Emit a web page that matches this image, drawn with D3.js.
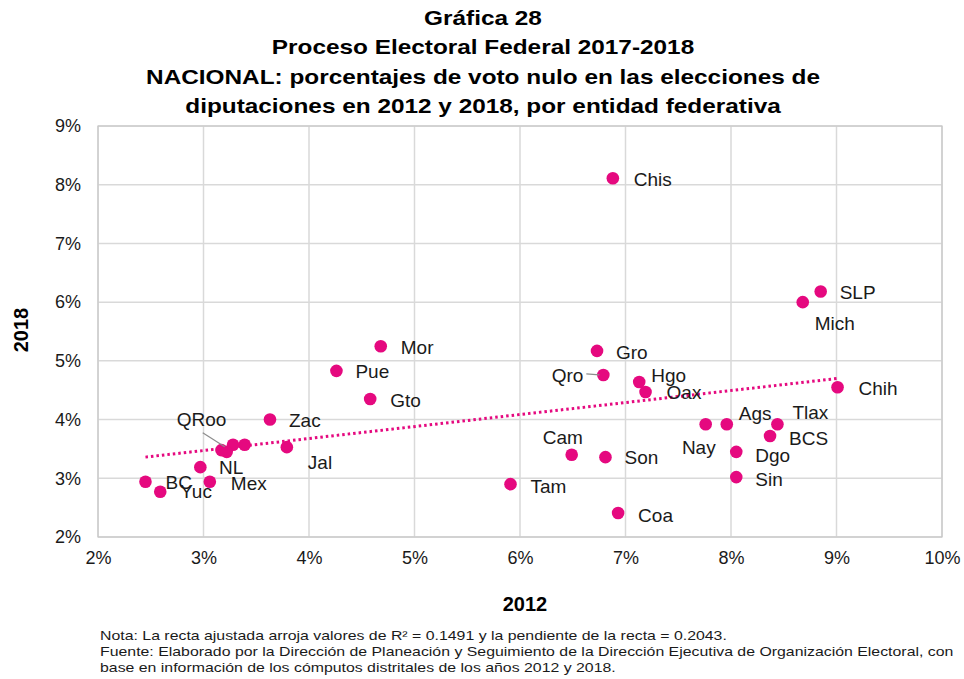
<!DOCTYPE html>
<html>
<head>
<meta charset="utf-8">
<script src="https://cdn.jsdelivr.net/npm/d3@7"></script>
<style>
  html, body { margin: 0; padding: 0; background: #ffffff; }
  svg { display: block; font-family: "Liberation Sans", Arial, sans-serif; }
</style>
</head>
<body>
<svg id="chart" width="964" height="679"></svg>
<script>
// ---------- data ----------
const entities = ["Chis","SLP","Mich","Mor","Pue","Gto","Zac","Jal","Gro","Qro","Hgo","Oax","Chih","Ags","Nay","Tlax","BCS","Dgo","Sin","Cam","Son","Tam","Coa","BC","Yuc","Mex","NL","QRoo","Col","Tab","Ver"];
const vote2012 = [6.88,8.85,8.68,4.68,4.26,4.58,3.63,3.79,6.73,6.79,7.13,7.19,9.01,7.96,7.76,8.44,8.37,8.05,8.05,6.49,6.81,5.91,6.93,2.45,2.59,3.06,3.28,3.22,2.97,3.17,3.39];
const vote2018 = [8.11,6.18,6.00,5.25,4.83,4.35,4.00,3.53,5.17,4.76,4.64,4.47,4.55,3.92,3.92,3.92,3.72,3.45,3.02,3.40,3.36,2.90,2.41,2.94,2.77,2.94,3.57,3.45,3.19,3.48,3.57];
const labelled = ["Chis","SLP","Mich","Mor","Pue","Gto","Zac","Jal","Gro","Qro","Hgo","Oax","Chih","Ags","Nay","Tlax","BCS","Dgo","Sin","Cam","Son","Tam","Coa","BC","Yuc","Mex","NL","QRoo"];
const xTicks = [2,3,4,5,6,7,8,9,10];
const yTicks = [2,3,4,5,6,7,8,9];
const trendSlope = 0.2043;
const trendIntercept = 2.86;

const titleLines = ["Gráfica 28","Proceso Electoral Federal 2017-2018","NACIONAL: porcentajes de voto nulo en las elecciones de","diputaciones en 2012 y 2018, por entidad federativa"];
const xTitle = "2012";
const yTitle = "2018";
const notes = [
  "Nota: La recta ajustada arroja valores de R² = 0.1491 y la pendiente de la recta = 0.2043.",
  "Fuente: Elaborado por la Dirección de Planeación y Seguimiento de la Dirección Ejecutiva de Organización Electoral, con",
  "base en información de los cómputos distritales de los años 2012 y 2018."
];

// ---------- label placement (layout, px offsets from the point) ----------
const labelPos = {
  Chis:[21,1,"start"], SLP:[19,1,"start"], Mich:[12,21,"start"], Mor:[20,1,"start"], Pue:[19,1,"start"],
  Gto:[20,1,"start"], Zac:[19,1,"start"], Jal:[21,15,"start"], Gro:[19,1,"start"], Qro:[-20,0,"end"],
  Hgo:[12,-7,"start"], Oax:[21,0,"start"], Chih:[21,1,"start"], Ags:[12,-11,"start"], Nay:[10,23,"end"],
  Tlax:[15,-12,"start"], BCS:[19,2,"start"], Dgo:[19,3,"start"], Sin:[19,2,"start"], Cam:[-29,-17,"start"],
  Son:[19,0,"start"], Tam:[20,2,"start"], Coa:[20,2,"start"], BC:[20,1,"start"], Yuc:[20,0,"start"],
  Mex:[21,2,"start"], NL:[-14,23,"start"], QRoo:[-50,-33,"start"]
};
const leaders = { Qro:[-17,-1,-4,0], QRoo:[-24,-19,-2,-5] };

// ---------- chart ----------
const svg = d3.select("#chart");
const margin = {left:98, right:22, top:126, bottom:142};
const W = 964, H = 679;
const x = d3.scaleLinear().domain([2,10]).range([margin.left, W - margin.right]);
const y = d3.scaleLinear().domain([2,9]).range([H - margin.bottom, margin.top]);
const pink = "#E5097F";

// title (reference text is horizontally stretched)
svg.append("g").attr("transform","translate(483,0) scale(1.16,1)")
  .selectAll("text").data(titleLines).join("text")
  .attr("x", 0).attr("y", (d,i) => 25 + i*29.3)
  .attr("text-anchor","middle").attr("font-size", 21).attr("font-weight","bold").attr("fill","#000")
  .text(d => d);

// grid
const grid = svg.append("g");
grid.selectAll("line.v").data(xTicks).join("line").attr("class","v")
  .attr("x1", d => x(d)).attr("x2", d => x(d)).attr("y1", y(2)).attr("y2", y(9))
  .attr("stroke","#d9d9d9").attr("stroke-width",1.5);
grid.selectAll("line.h").data(yTicks).join("line").attr("class","h")
  .attr("y1", d => y(d)).attr("y2", d => y(d)).attr("x1", x(2)).attr("x2", x(10))
  .attr("stroke","#d9d9d9").attr("stroke-width",1.5);
svg.append("rect").attr("x", x(2)).attr("y", y(9)).attr("width", x(10)-x(2)).attr("height", y(2)-y(9))
  .attr("fill","none").attr("stroke","#c8c8c8").attr("stroke-width",1.2);

// axes (tick labels only)
const xAxis = svg.append("g").attr("transform", `translate(0,${y(2)})`)
  .call(d3.axisBottom(x).tickValues(xTicks).tickFormat(d => d + "%").tickSize(0).tickPadding(14));
const yAxis = svg.append("g").attr("transform", `translate(${x(2)},0)`)
  .call(d3.axisLeft(y).tickValues(yTicks).tickFormat(d => d + "%").tickSize(0).tickPadding(17));
[xAxis, yAxis].forEach(a => {
  a.select(".domain").remove();
  a.selectAll("text").attr("font-size", 18).attr("fill","#1a1a1a")
    .attr("font-family", '"Liberation Sans", Arial, sans-serif');
});

// axis titles
svg.append("text").attr("x", 525).attr("y", 611).attr("text-anchor","middle")
  .attr("font-size", 20).attr("font-weight","bold").text(xTitle);
svg.append("text").attr("transform","translate(28,330) rotate(-90)").attr("text-anchor","middle")
  .attr("font-size", 20).attr("font-weight","bold").text(yTitle);

// trend line
const xmin = d3.min(vote2012), xmax = d3.max(vote2012);
const line = d3.line().x(d => x(d)).y(d => y(trendSlope*d + trendIntercept));
svg.append("path").datum([xmin, xmax]).attr("d", line)
  .attr("fill","none").attr("stroke", pink).attr("stroke-width", 3)
  .attr("stroke-dasharray","2.5,3");

// points
const pts = entities.map((n,i) => ({name:n, a:vote2012[i], b:vote2018[i]}));
svg.append("g").selectAll("circle").data(pts).join("circle")
  .attr("cx", d => x(d.a)).attr("cy", d => y(d.b)).attr("r", 6.3).attr("fill", pink);

// leader lines
svg.append("g").selectAll("line").data(pts.filter(d => leaders[d.name])).join("line")
  .attr("x1", d => x(d.a) + leaders[d.name][0]).attr("y1", d => y(d.b) + leaders[d.name][1])
  .attr("x2", d => x(d.a) + leaders[d.name][2]).attr("y2", d => y(d.b) + leaders[d.name][3])
  .attr("stroke","#8c8c8c").attr("stroke-width",1.2);

// labels
svg.append("g").selectAll("text").data(pts.filter(d => labelled.includes(d.name))).join("text")
  .attr("x", d => x(d.a) + labelPos[d.name][0])
  .attr("y", d => y(d.b) + labelPos[d.name][1])
  .attr("dy","0.35em").attr("text-anchor", d => labelPos[d.name][2])
  .attr("font-size", 19).attr("fill","#1a1a1a").text(d => d.name);

// notes (reference text is horizontally stretched)
svg.append("g").attr("transform","translate(100,0) scale(1.22,1)")
  .selectAll("text").data(notes).join("text")
  .attr("x", 0).attr("y", (d,i) => 640 + i*16)
  .attr("font-size", 13).attr("fill","#1a1a1a").text(d => d);
</script>
</body>
</html>
